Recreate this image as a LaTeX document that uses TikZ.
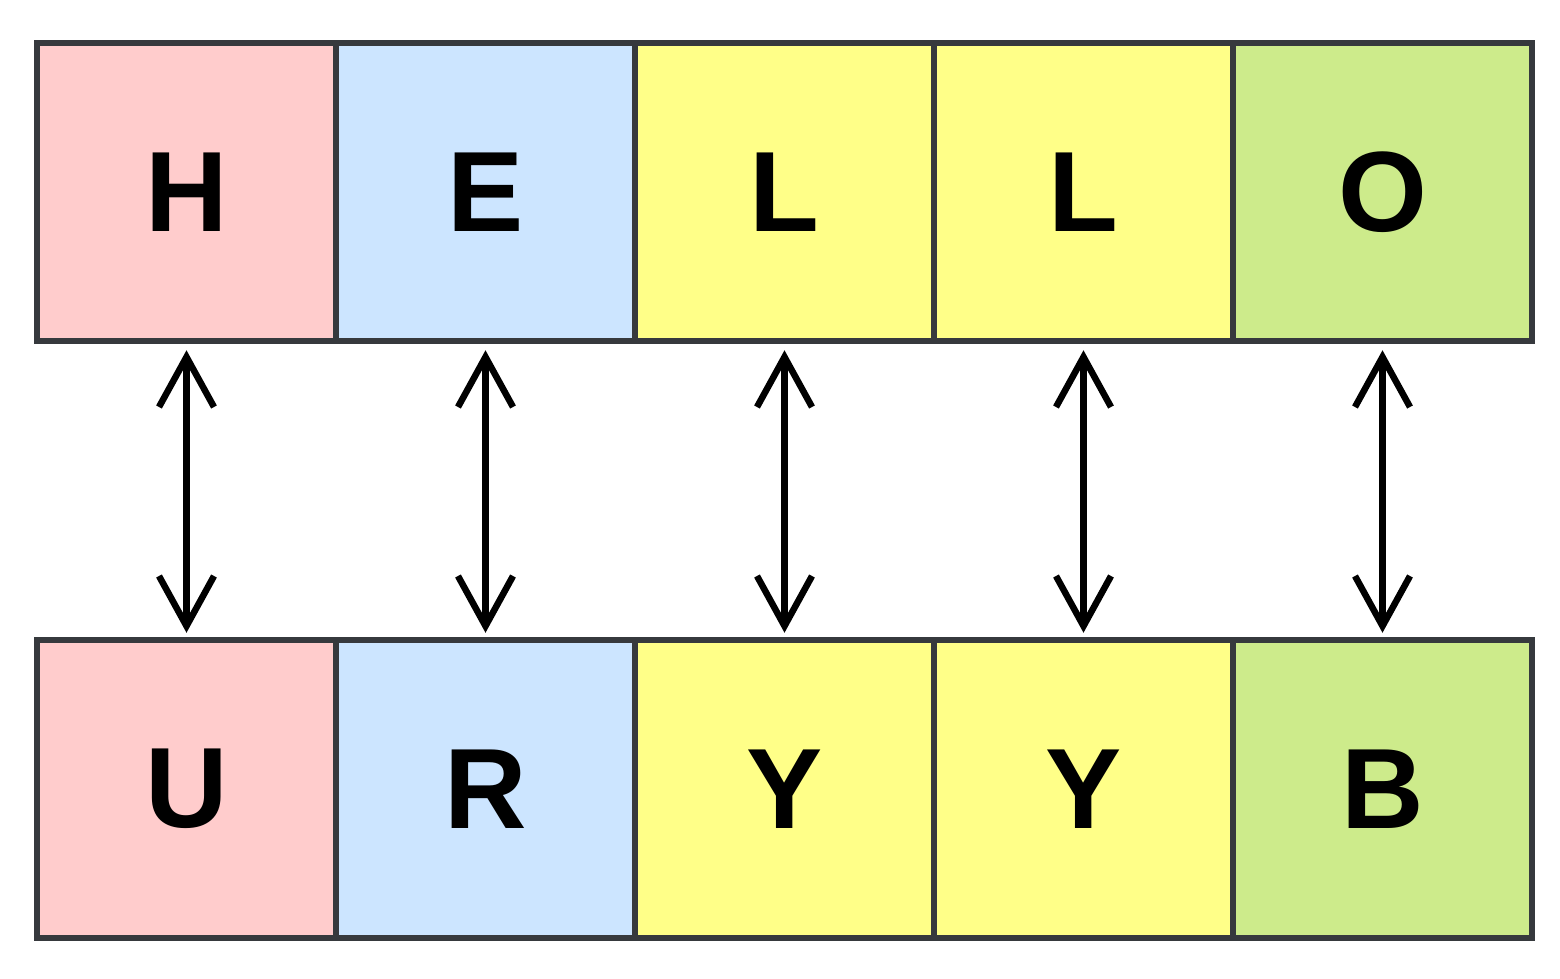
\documentclass[tikz,border=0pt]{standalone}
\usepackage{fontspec}
\setmainfont{Liberation Sans}
\usepackage{xcolor}
\definecolor{Col1}{RGB}{255,204,204}
\definecolor{Col2}{RGB}{204,229,255}
\definecolor{Col3}{RGB}{255,255,136}
\definecolor{Col4}{RGB}{205,235,139}
\definecolor{ColB}{RGB}{54,57,61}
\usetikzlibrary{arrows.meta}
\tikzstyle{Cell}=[rectangle,draw=ColB,line width=0.13cm,minimum width=5.98cm,
minimum height=5.96cm,inner sep=0pt,font=\fontsize{65}{65}\selectfont\bfseries]
\tikzstyle{Edge}=[line width=0.13cm,line cap=round,
{Straight Barb[length=1.0cm,width=1.1cm,line width=0.13cm]}-{Straight Barb[length=1.0cm,width=1.1cm,line width=0.13cm]}]

\begin{document}
\begin{tikzpicture}
        \useasboundingbox(0,0)rectangle(31.2,-19.56);
        % top row
        \node[Cell,fill=Col1](H)at(3.73,-3.84){H};
        \node[Cell,fill=Col2](E)at(9.71,-3.84){E};
        \node[Cell,fill=Col3](L1)at(15.69,-3.84){L};
        \node[Cell,fill=Col3](L2)at(21.67,-3.84){L};
        \node[Cell,fill=Col4](O)at(27.65,-3.84){O};
        % bottom row
        \node[Cell,fill=Col1](U)at(3.73,-15.78){U};
        \node[Cell,fill=Col2](R)at(9.71,-15.78){R};
        \node[Cell,fill=Col3](Y1)at(15.69,-15.78){Y};
        \node[Cell,fill=Col3](Y2)at(21.67,-15.78){Y};
        \node[Cell,fill=Col4](B)at(27.65,-15.78){B};
        \draw[Edge]([yshift=-0.12cm]H.south)--([yshift=0.08cm]U.north);
        \draw[Edge]([yshift=-0.12cm]E.south)--([yshift=0.08cm]R.north);
        \draw[Edge]([yshift=-0.12cm]L1.south)--([yshift=0.08cm]Y1.north);
        \draw[Edge]([yshift=-0.12cm]L2.south)--([yshift=0.08cm]Y2.north);
        \draw[Edge]([yshift=-0.12cm]O.south)--([yshift=0.08cm]B.north);
    \end{tikzpicture}
\end{document}
